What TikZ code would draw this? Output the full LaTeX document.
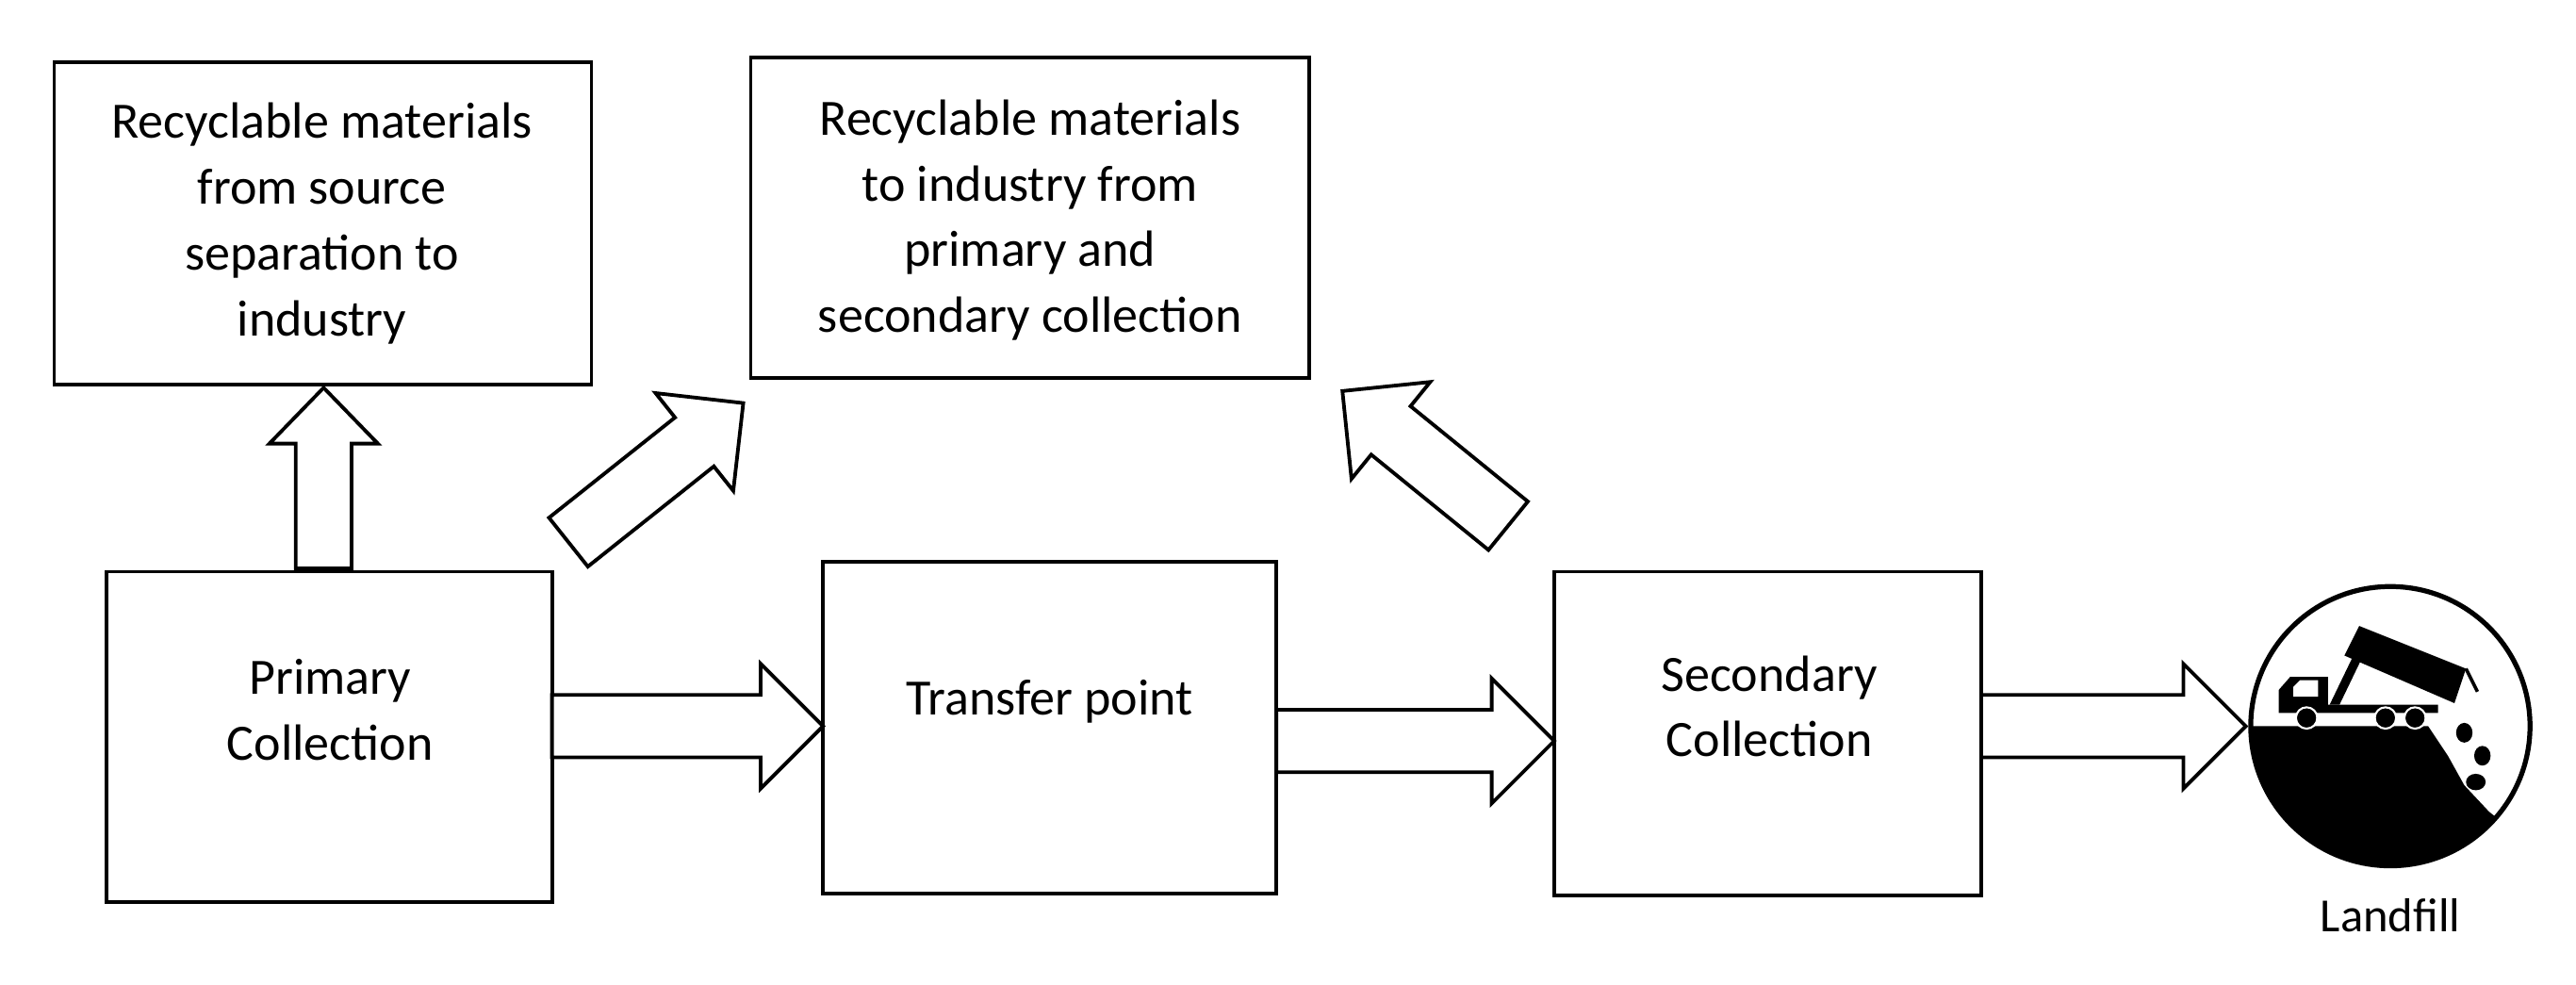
\documentclass[tikz,border=0pt]{standalone}
\usepackage{fontspec}
\setmainfont{Carlito}
\begin{document}
\begin{tikzpicture}[x=1pt,y=-1pt,
  box/.style={draw,line width=2.2pt},
  txt/.style={align=center,font=\fontsize{31}{40}\selectfont},
  barr/.style={draw,line width=2.2pt,fill=white,line join=miter}]
\useasboundingbox (0,0) rectangle (1568,599);
\newcommand\barrow[4]{\draw[barr,shift={(#1,#2)},rotate=#3] (0,-19)--({#4-38},-19)--({#4-38},-38)--(#4,0)--({#4-38},38)--({#4-38},19)--(0,19)--cycle;}
\draw[box] (33,38) rectangle (360,234);
\node[txt] (b1) at (196,136) {Recyclable materials\\from source\\separation to\\industry};
\draw[box] (457,35) rectangle (797,230);
\node[txt] (b2) at (627,134) {Recyclable materials\\to industry from\\primary and\\secondary collection};
\draw[box] (65,348) rectangle (336,549);
\node[txt] (p) at (201,432) {Primary\\Collection};
\draw[box] (501,342) rectangle (777,544);
\node[txt] (t) at (639,427) {Transfer point};
\draw[box] (946,348) rectangle (1206,545);
\node[txt] (s) at (1077,430) {Secondary\\Collection};
% arrows
\barrow{336}{442}{0}{165}
\barrow{777}{451}{0}{169}
\barrow{1206}{442}{0}{161}
\draw[barr] (180,346)--(180,270)--(164,270)--(197,236)--(230,270)--(214,270)--(214,346)--cycle;
\barrow{346}{330}{38.5}{136}
\barrow{918}{320}{140.9}{130}
% landfill icon
\node[font=\fontsize{29}{32}\selectfont] (lf) at (1455,557) {Landfill};
\begin{scope}
\clip (1455,442) circle (85);
\fill (1360,442)--(1478,442)--(1490,460)--(1500,478)--(1515,494)--(1560,530)--(1360,540)--cycle;
\end{scope}
\draw[line width=3pt] (1455,442) circle (85);
\fill (1387,434)--(1387,420)--(1394,412)--(1417,412)--(1417,429)--(1484,429)--(1484,434)--cycle;
\fill[white] (1396,418)--(1400,414)--(1411,414)--(1411,424)--(1396,424)--cycle;
\fill (1418,429)--(1432,400)--(1437,402)--(1424,429)--cycle;
\fill (1436,381)--(1427,399)--(1494,428)--(1501,407)--cycle;
\draw[line width=2pt] (1501,407)--(1508,421);
\foreach \x in {1404,1452,1470}{\fill (\x,437) circle (6); \draw[white,line width=1.2pt] (\x,437) circle (6.5);}
\fill (1500,446) ellipse (5 and 6);
\fill (1511,460) ellipse (5 and 6);
\fill (1507,476) ellipse (6 and 5);
\end{tikzpicture}
\end{document}
